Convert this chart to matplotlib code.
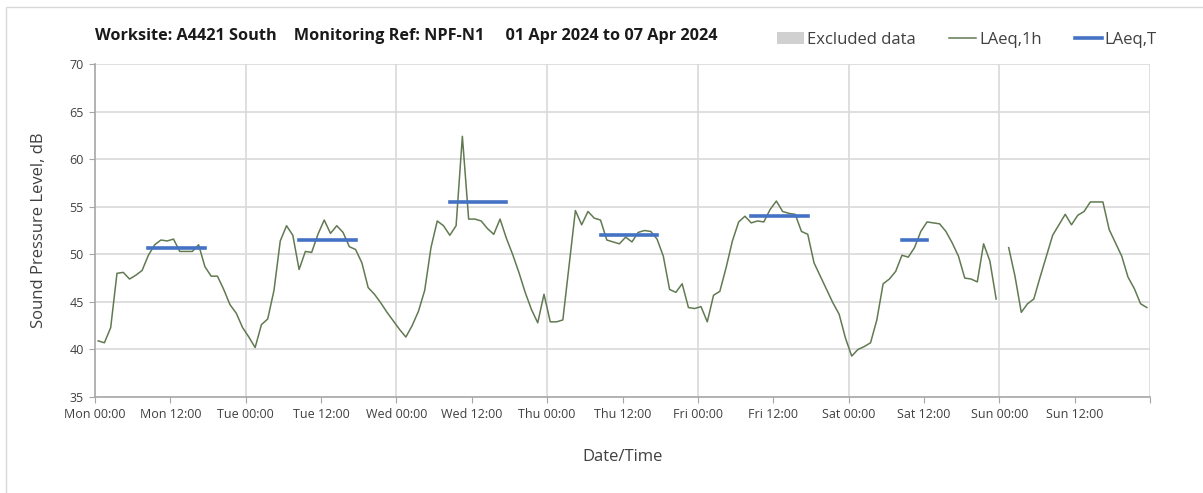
import matplotlib
matplotlib.use("Agg")
import matplotlib.pyplot as plt
import numpy as np
from matplotlib.patches import Patch, Rectangle
from matplotlib.lines import Line2D

plt.rcParams['font.family'] = ['Open Sans', 'DejaVu Sans']

# Hourly LAeq,1h values (dB), one list per day, index = hour of day
mon = [40.9, 40.7, 42.3, 48.0, 48.1, 47.4, 47.8, 48.3, 49.9, 51.0, 51.5, 51.4,
       51.6, 50.3, 50.3, 50.3, 51.0, 48.7, 47.7, 47.7, 46.3, 44.7, 43.8, 42.3]
tue = [41.3, 40.2, 42.6, 43.2, 46.2, 51.4, 53.0, 52.0, 48.4, 50.3, 50.2, 52.1,
       53.6, 52.2, 53.0, 52.3, 50.8, 50.5, 49.1, 46.5, 45.8, 44.9, 43.9, 43.0]
wed = [42.1, 41.3, 42.5, 44.0, 46.2, 50.7, 53.5, 53.0, 52.0, 53.0, 62.4, 53.7,
       53.7, 53.5, 52.7, 52.1, 53.7, 51.7, 50.0, 48.1, 46.0, 44.2, 42.8, 45.8]
thu = [42.9, 42.9, 43.1, 48.9, 54.6, 53.1, 54.5, 53.8, 53.6, 51.5, 51.3, 51.1,
       51.8, 51.3, 52.3, 52.5, 52.4, 51.6, 49.8, 46.3, 46.0, 46.9, 44.4, 44.3]
fri = [44.5, 42.9, 45.7, 46.1, 48.6, 51.4, 53.4, 54.0, 53.3, 53.5, 53.4, 54.7,
       55.6, 54.5, 54.3, 54.2, 52.4, 52.1, 49.1, 47.7, 46.3, 44.9, 43.7, 41.2]
sat = [39.3, 40.0, 40.3, 40.7, 43.1, 46.9, 47.4, 48.2, 49.9, 49.7, 50.7, 52.4,
       53.4, 53.3, 53.2, 52.4, 51.2, 49.8, 47.5, 47.4, 47.1, 51.1, 49.3, 45.3]
sun = [np.nan, 50.7, 47.7, 43.9, 44.8, 45.3, 47.6, 49.8, 52.0, 53.1, 54.2, 53.1,
       54.1, 54.5, 55.5, 55.5, 55.5, 52.6, 51.2, 49.8, 47.6, 46.4, 44.8, 44.4]

# LAeq,T periods: (day index, start hour, end hour, level)
period_day = [0, 1, 2, 3, 4, 5]
period_start = [8, 8, 8, 8, 8, 8]
period_end = [18, 18, 18, 18, 18, 13]
period_level = [50.7, 51.5, 55.5, 52.0, 54.0, 51.5]

day_names = ['Mon', 'Tue', 'Wed', 'Thu', 'Fri', 'Sat', 'Sun']
title_text = ('Worksite: A4421 South    Monitoring Ref: NPF-N1     '
              '01 Apr 2024 to 07 Apr 2024')

laeq_1h = np.array(mon + tue + wed + thu + fri + sat + sun, dtype=float)
hours = np.arange(len(laeq_1h)) + 0.5

W, H = 1203, 493
fig = plt.figure(figsize=(W / 100, H / 100), dpi=100)
ax = fig.add_axes([95 / W, 1 - 397 / H, (1150 - 95) / W, (397 - 64) / H])

# outer border of chart area
fig.patches.append(Rectangle((6 / W, -0.1), 1.2, 1 - 7 / H + 0.1,
                             transform=fig.transFigure, fill=False,
                             edgecolor='#d9d9d9', linewidth=1.0))

line_col = '#617a52'
blue = '#4472c4'

ax.plot(hours, laeq_1h, color=line_col, linewidth=1.1, zorder=3)
for d, s, e, v in zip(period_day, period_start, period_end, period_level):
    ax.plot([24 * d + s + 0.5, 24 * d + e - 0.5], [v, v], color=blue,
            linewidth=2.6, solid_capstyle='projecting', zorder=4)

ax.set_xlim(0, 168)
ax.set_ylim(35, 70)
ax.set_yticks(np.arange(35, 71, 5))
ax.set_xticks(np.arange(0, 169, 12))
xlabels = []
for d in day_names:
    xlabels += [f'{d} 00:00', f'{d} 12:00']
xlabels.append('')
ax.set_xticklabels(xlabels)

ax.grid(False)
for y in np.arange(40, 71, 5):
    ax.axhline(y, color='#d9d9d9', linewidth=1.2, zorder=1)
for x in np.arange(24, 169, 24):
    ax.axvline(x, color='#d9d9d9', linewidth=1.2, zorder=1)

for s in ['top', 'right']:
    ax.spines[s].set_visible(False)
for s in ['left', 'bottom']:
    ax.spines[s].set_color('#a6a6a6')
    ax.spines[s].set_linewidth(1.2)

ax.tick_params(axis='both', which='major', direction='out', length=4,
               color='#a6a6a6', labelsize=9, labelcolor='#404040', pad=4)

ax.set_ylabel('Sound Pressure Level, dB', fontsize=12, color='#404040', labelpad=16)
ax.set_xlabel('Date/Time', fontsize=12, color='#404040', labelpad=20)

fig.text(95 / W, 1 - 36 / H, title_text, fontsize=11.7, fontweight='bold',
         color='#1a1a1a', ha='left', va='center')

handles = [Patch(facecolor='#d0d0d0', edgecolor='none'),
           Line2D([], [], color=line_col, linewidth=1.1),
           Line2D([], [], color=blue, linewidth=2.6)]
fig.legend(handles, ['Excluded data', 'LAeq,1h', 'LAeq,T'], ncol=3,
           loc='center right', bbox_to_anchor=(1172 / W, 1 - 40 / H),
           frameon=False, fontsize=12, handlelength=1.6, handleheight=0.7,
           handletextpad=0.2, columnspacing=2.0, labelcolor='#404040')

fig.savefig('out.png', dpi=100)
